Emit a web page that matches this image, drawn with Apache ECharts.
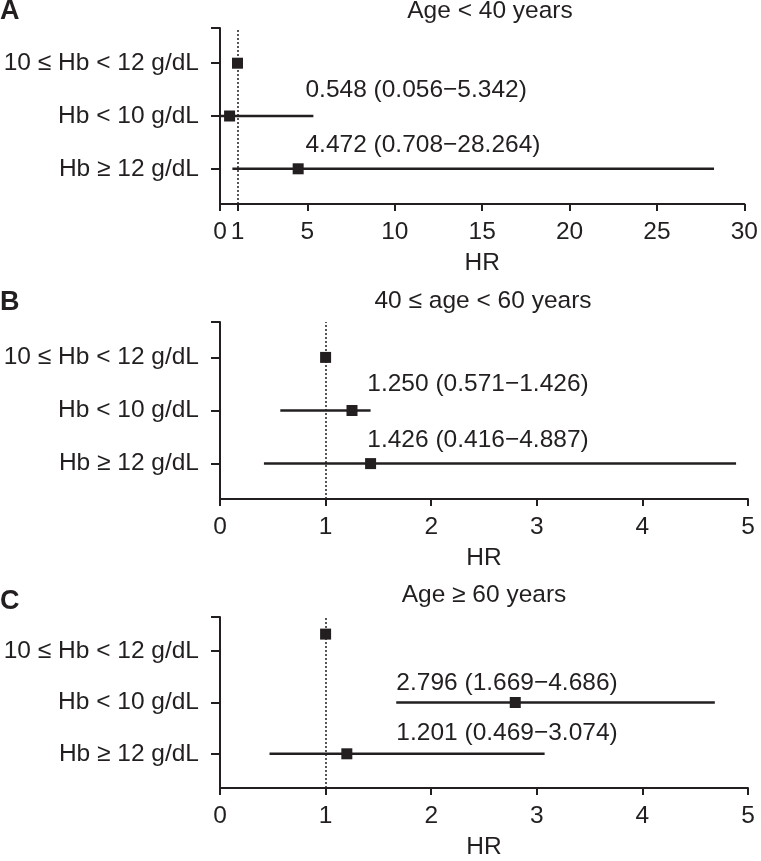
<!DOCTYPE html>
<html>
<head>
<meta charset="utf-8">
<script src="https://cdn.jsdelivr.net/npm/echarts@6/dist/echarts.min.js"></script>
<style>
  html, body { margin: 0; padding: 0; background: #fff; }
  #chart { width: 761px; height: 861px; }
</style>
</head>
<body>
<div id="chart"></div>
<script>
// ---- data ----
const rowLabels = ['10 ≤ Hb < 12 g/dL', 'Hb < 10 g/dL', 'Hb ≥ 12 g/dL'];
const panelLetters = ['A', 'B', 'C'];
const panelTitles = ['Age < 40 years', '40 ≤ age < 60 years', 'Age ≥ 60 years'];
const axisName = 'HR';

const hrA = [1, 0.548, 4.472];
const loA = [null, 0.056, 0.708];
const hiA = [null, 5.342, 28.264];

const hrB = [1, 1.250, 1.426];
const loB = [null, 0.571, 0.416];
const hiB = [null, 1.426, 4.887];

const hrC = [1, 2.796, 1.201];
const loC = [null, 1.669, 0.469];
const hiC = [null, 4.686, 3.074];

const xTicksA = [0, 1, 5, 10, 15, 20, 25, 30];
const xTicksBC = [0, 1, 2, 3, 4, 5];

// ---- layout / style ----
const INK = '#231f20';
const FONT = '"Liberation Sans", Arial, Helvetica, sans-serif';
const FS = 24.5;
const rowY = [8, 5, 2];          // vertical slots of the three rows (y axis 0..10)
const panels = [
  { hr: hrA, lo: loA, hi: hiA, xmax: 30, ticks: xTicksA, top: 28, height: 176,
    refY: 8, annX: 4.89, annDy: [1.48, 1.31] },
  { hr: hrB, lo: loB, hi: hiB, xmax: 5, ticks: xTicksBC, top: 322, height: 177,
    refY: 8, annX: 1.395, annDy: [1.5, 1.34] },
  { hr: hrC, lo: loC, hi: hiC, xmax: 5, ticks: xTicksBC, top: 617, height: 176.5,
    refY: 9, annX: 1.67, annDy: [1.13, 1.2] }
];
const titleY = [11, 301, 595];
const titleX = [490, 483, 484];
const letterY = [12, 303, 602];

const fmt = v => v.toFixed(3);

const grids = [], xAxes = [], yAxes = [], series = [], graphics = [];

panels.forEach((p, i) => {
  grids.push({ left: 220, width: 528, top: p.top, height: p.height });
  xAxes.push({
    type: 'value', gridIndex: i, min: 0, max: p.xmax,
    name: axisName, nameLocation: 'middle', nameGap: 47,
    nameTextStyle: { fontSize: FS, fontFamily: FONT, color: INK },
    axisLine: { show: true, lineStyle: { color: INK, width: 2 } },
    axisTick: { show: true, length: 7, lineStyle: { color: INK, width: 2 }, customValues: p.ticks },
    axisLabel: { margin: 16, fontSize: FS, fontFamily: FONT, color: INK, customValues: p.ticks },
    splitLine: { show: false }
  });
  yAxes.push({
    type: 'value', gridIndex: i, min: 0, max: 10,
    axisLine: { show: true, lineStyle: { color: INK, width: 2 } },
    axisTick: { show: true, length: 9, lineStyle: { color: INK, width: 2 }, customValues: rowY.concat([10]) },
    axisLabel: {
      margin: 21, fontSize: FS, fontFamily: FONT, color: INK, customValues: rowY,
      formatter: v => rowLabels[rowY.indexOf(v)] || ''
    },
    splitLine: { show: false }
  });

  // error bars
  const ciData = [];
  rowLabels.forEach((_, r) => {
    if (p.lo[r] != null) ciData.push([p.lo[r], p.hi[r], rowY[r]]);
  });
  series.push({
    type: 'custom', xAxisIndex: i, yAxisIndex: i, silent: true, z: 3,
    encode: { x: [0, 1], y: 2 },
    data: ciData,
    renderItem: function (params, api) {
      const y = api.value(2);
      const a = api.coord([api.value(0), y]);
      const b = api.coord([api.value(1), y]);
      return { type: 'line', shape: { x1: a[0], y1: a[1], x2: b[0], y2: b[1] },
               style: { stroke: INK, lineWidth: 2.5 } };
    }
  });

  // point estimates
  const ptData = p.hr.map((v, r) => [v, r === 0 ? p.refY : rowY[r]]);
  series.push({
    type: 'scatter', xAxisIndex: i, yAxisIndex: i, z: 5,
    symbol: 'rect', symbolSize: 11, itemStyle: { color: INK, opacity: 1 },
    emphasis: { disabled: true },
    data: ptData,
    markLine: {
      silent: true, symbol: 'none', label: { show: false }, z: 2,
      lineStyle: { color: INK, type: [2, 2], width: 1.5, opacity: 1 },
      data: [{ xAxis: 1 }]
    }
  });

  // annotations
  const annData = [1, 2].map((r, k) => ({
    value: [p.annX, rowY[r] + p.annDy[k]],
    label: { formatter: fmt(p.hr[r]) + ' (' + fmt(p.lo[r]) + '−' + fmt(p.hi[r]) + ')' }
  }));
  series.push({
    type: 'scatter', xAxisIndex: i, yAxisIndex: i, symbolSize: 0, silent: true,
    itemStyle: { opacity: 1 },
    emphasis: { disabled: true },
    data: annData,
    label: { show: true, position: 'right', distance: 0, align: 'left', verticalAlign: 'middle',
             fontSize: FS, fontFamily: FONT, color: INK, opacity: 1 }
  });

  graphics.push({
    type: 'text', x: titleX[i], y: titleY[i],
    style: { text: panelTitles[i], fontSize: FS, fontFamily: FONT, fill: INK,
             align: 'center', verticalAlign: 'middle' }
  });
  graphics.push({
    type: 'text', x: 0, y: letterY[i],
    style: { text: panelLetters[i], fontSize: 27, fontWeight: 'bold', fontFamily: FONT, fill: INK,
             align: 'left', verticalAlign: 'middle' }
  });
});

const chart = echarts.init(document.getElementById('chart'), null, { renderer: 'canvas' });
chart.setOption({
  animation: false,
  backgroundColor: '#fff',
  grid: grids, xAxis: xAxes, yAxis: yAxes, series: series, graphic: graphics
});
</script>
</body>
</html>
